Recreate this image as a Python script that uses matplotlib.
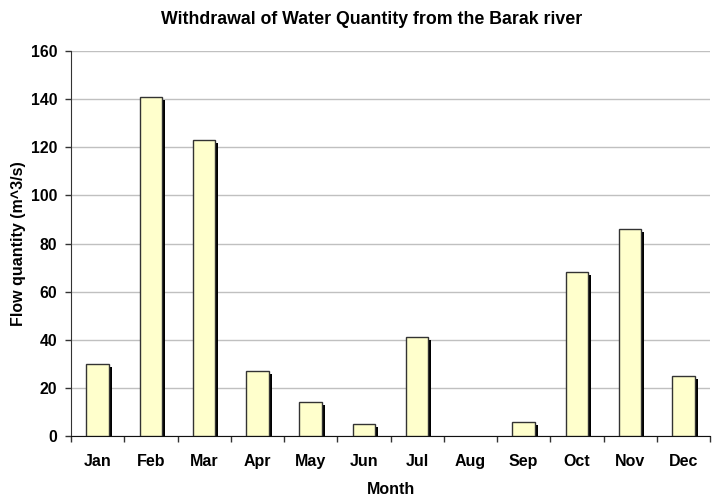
import matplotlib
matplotlib.use("Agg")
import matplotlib.pyplot as plt
import matplotlib.transforms as mtransforms
import numpy as np

months = ["Jan", "Feb", "Mar", "Apr", "May", "Jun",
          "Jul", "Aug", "Sep", "Oct", "Nov", "Dec"]
flow = [30, 141, 123, 27, 14, 5, 41, 0, 6, 68, 86, 25]
yticks = [0, 20, 40, 60, 80, 100, 120, 140, 160]

plt.rcParams["font.family"] = ["Liberation Sans", "DejaVu Sans"]
plt.rcParams["font.weight"] = "bold"

fig = plt.figure(figsize=(7.15, 4.99), dpi=100)
ax = fig.add_axes([71 / 715, 1 - 436 / 499, 639 / 715, 385 / 499])

x = np.arange(len(months))
w = 0.42
# zero-height bars (Aug) show nothing in the original
lw = [1.0 if v > 0 else 0 for v in flow]
# drop shadow: same bars shifted 3px right and 3px down
shadow = mtransforms.offset_copy(ax.transData, fig=fig, x=3, y=-3, units="dots")
ax.bar(x, flow, width=w, color="black", edgecolor="none",
       transform=shadow, zorder=2)
ax.bar(x, flow, width=w, color="#ffffcc", edgecolor="#333333",
       linewidth=lw, zorder=3)

ax.set_xlim(-0.5, len(months) - 0.5)
ax.set_ylim(0, 160)
ax.set_yticks(yticks)
ax.set_xticks(x)
ax.set_xticklabels(months, fontsize=11.5, fontweight="bold")
ax.set_xticks(np.arange(len(months) + 1) - 0.5, minor=True)
ax.tick_params(axis="x", which="major", length=0, pad=13)
ax.tick_params(axis="x", which="minor", length=4, width=1, color="#333333")
ax.tick_params(axis="y", length=4, width=1, color="#333333",
               labelsize=11.3, pad=6)
for lab in ax.get_yticklabels():
    lab.set_fontweight("bold")

ax.grid(axis="y", color="#c0c0c0", linewidth=1, zorder=0)
ax.set_axisbelow(True)
for s in ["top", "right"]:
    ax.spines[s].set_visible(False)
ax.spines["left"].set_color("#333333")
ax.spines["bottom"].set_color("#111111")

ax.set_xlabel("Month", fontsize=11.5, fontweight="bold", labelpad=9)
ax.set_ylabel("Flow quantity (m^3/s)", fontsize=11.5, fontweight="bold", labelpad=3)
fig.text(372 / 715, 1 - 19 / 499, "Withdrawal of Water Quantity from the Barak river",
         ha="center", va="center", fontsize=12.8, fontweight="bold")

fig.savefig("out.png", dpi=100)
